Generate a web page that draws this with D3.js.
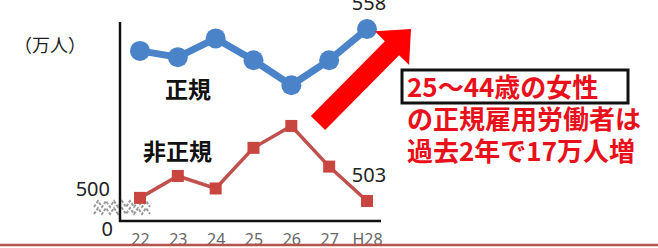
<!DOCTYPE html>
<html>
<head>
<meta charset="utf-8">
<script src="https://cdn.jsdelivr.net/npm/d3@7"></script>
<style>
  body { margin: 0; background: #fff; }
  svg { display: block; }
</style>
</head>
<body>
<script>
// 25-44歳女性 正規 / 非正規 (万人)
var years = ["22", "23", "24", "25", "26", "27", "H28"]
var regular = [551, 549, 555, 548, 540, 548, 558]
var nonRegular = [504, 511, 507, 520, 527, 514, 503]
var yTickLabels = ["500", "0"]
var noteLines = ["25～44歳の女性", "の正規雇用労働者は", "過去2年で17万人増"]

var w = 658, h = 248
var svg = d3.select("body").append("svg")
    .attr("width", w)
    .attr("height", h)

var x = d3.scalePoint()
    .domain(years)
    .range([140, 367])

var y = d3.scaleLinear()
    .domain([503, 558])
    .range([201, 29])

var numFont = "'Noto Sans', 'Liberation Sans', sans-serif"
var jpFont = "'Noto Sans CJK JP', sans-serif"

// axis break squiggles
var squig = d3.line().x(function(d){ return d[0] }).y(function(d){ return d[1] })
;[204, 211].forEach(function(yy){
  var pts = []
  for (var i = 0; i <= 14; i++) pts.push([94 + i * 4, yy + (i % 2 ? -3 : 3)])
  svg.append("path")
    .attr("d", squig(pts))
    .attr("fill", "none")
    .attr("stroke", "#9a9a9a")
    .attr("stroke-width", 2)
    .attr("stroke-dasharray", "3,1.5")
})

// axes
svg.append("line")
    .attr("x1", 120).attr("x2", 120)
    .attr("y1", 22).attr("y2", 222)
    .attr("stroke", "#111").attr("stroke-width", 2.5)

var xAxis = svg.append("g")
    .attr("transform", "translate(0,221)")
    .call(d3.axisBottom(x).tickSize(0).tickPadding(13))
xAxis.select(".domain").remove()
xAxis.append("line")
    .attr("x1", 119).attr("x2", 381)
    .attr("stroke", "#111").attr("stroke-width", 2.5)
xAxis.selectAll("text")
    .attr("font-family", numFont)
    .attr("font-size", 16)
    .attr("fill", "#666")

// y labels (broken axis)
svg.append("text")
    .attr("x", 110).attr("y", 196)
    .attr("text-anchor", "end")
    .attr("font-family", numFont).attr("font-size", 20)
    .attr("fill", "#222")
    .text(yTickLabels[0])
svg.append("text")
    .attr("x", 113).attr("y", 236)
    .attr("text-anchor", "end")
    .attr("font-family", numFont).attr("font-size", 20)
    .attr("fill", "#222")
    .text(yTickLabels[1])

svg.append("text")
    .attr("x", 50).attr("y", 44)
    .attr("text-anchor", "middle")
    .attr("dominant-baseline", "central")
    .attr("font-family", jpFont).attr("font-size", 18)
    .attr("fill", "#222")
    .text("（万人）")

var line = d3.line()
    .x(function(d, i){ return x(years[i]) })
    .y(function(d){ return y(d) })

// non regular (red squares)
svg.append("path")
    .attr("d", line(nonRegular))
    .attr("fill", "none")
    .attr("stroke", "#c0504d")
    .attr("stroke-width", 3.5)
svg.selectAll(".sq").data(nonRegular).enter().append("rect")
    .attr("class", "sq")
    .attr("x", function(d, i){ return x(years[i]) - 6 })
    .attr("y", function(d){ return y(d) - 6 })
    .attr("width", 12).attr("height", 12)
    .attr("fill", "#c9453f")

// regular (blue circles)
svg.append("path")
    .attr("d", line(regular))
    .attr("fill", "none")
    .attr("stroke", "#4a83c8")
    .attr("stroke-width", 7)
svg.selectAll(".dot").data(regular).enter().append("circle")
    .attr("class", "dot")
    .attr("cx", function(d, i){ return x(years[i]) })
    .attr("cy", function(d){ return y(d) })
    .attr("r", 10)
    .attr("fill", "#4a83c8")

// end values
var last = years.length - 1
;[regular[last], nonRegular[last]].forEach(function(v){
  svg.append("text")
    .attr("x", x(years[last]) + 2)
    .attr("y", y(v) - 19)
    .attr("text-anchor", "middle")
    .attr("font-family", numFont).attr("font-size", 20)
    .attr("fill", "#222")
    .text(v)
})

// series names
svg.append("text")
    .attr("x", 165).attr("y", 88)
    .attr("dominant-baseline", "central")
    .attr("font-family", jpFont).attr("font-size", 23).attr("font-weight", "bold")
    .attr("fill", "#111")
    .text("正規")
svg.append("text")
    .attr("x", 143).attr("y", 150)
    .attr("dominant-baseline", "central")
    .attr("font-family", jpFont).attr("font-size", 23).attr("font-weight", "bold")
    .attr("fill", "#111")
    .text("非正規")

// big red arrow
var tail = [318, 123], tip = [411, 29]
var dx = tip[0] - tail[0], dy = tip[1] - tail[1]
var len = Math.sqrt(dx * dx + dy * dy)
var ux = dx / len, uy = dy / len, px = -uy, py = ux
var headLen = 27, headHalf = 24, shaftHalf = 10
function pt(a, b){ return [tail[0] + ux * a + px * b, tail[1] + uy * a + py * b] }
var arrowPts = [
  pt(0, -shaftHalf), pt(len - headLen, -shaftHalf), pt(len - headLen, -headHalf),
  pt(len, 0),
  pt(len - headLen, headHalf), pt(len - headLen, shaftHalf), pt(0, shaftHalf)
]
svg.append("path")
    .attr("d", "M" + arrowPts.join("L") + "Z")
    .attr("fill", "#f00")

// note box
svg.append("rect")
    .attr("x", 402).attr("y", 70)
    .attr("width", 226).attr("height", 33)
    .attr("fill", "none")
    .attr("stroke", "#111").attr("stroke-width", 3)

svg.selectAll(".note").data(noteLines).enter().append("text")
    .attr("class", "note")
    .attr("x", 407)
    .attr("y", function(d, i){ return 97 + i * 32 })
    .attr("font-family", jpFont).attr("font-size", 26).attr("font-weight", "bold")
    .attr("fill", "#e8101a")
    .text(function(d){ return d })

// bottom rule
svg.append("rect")
    .attr("x", 0).attr("y", 245).attr("width", w).attr("height", 3)
    .attr("fill", "#fff")
svg.append("line")
    .attr("x1", 0).attr("x2", w)
    .attr("y1", 245).attr("y2", 245)
    .attr("stroke", "#b4524c").attr("stroke-width", 2.5)
</script>
</body>
</html>
